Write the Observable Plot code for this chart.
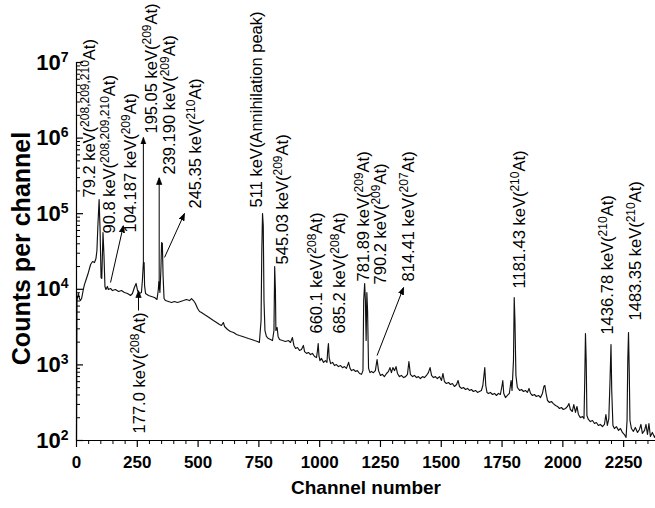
<!DOCTYPE html>
<html><head><meta charset="utf-8">
<script src="https://cdn.jsdelivr.net/npm/d3@7"></script>
<script src="https://cdn.jsdelivr.net/npm/@observablehq/plot@0.6"></script>
<style>body{margin:0;background:#fff} svg{display:block}</style>
</head><body><div id="chart"></div>
<script>
// ---- spectrum (channel, counts per channel) ----
const channels = [0,2,4,8,12,16,21,25,29,33,41,49,58,66,74,80,84,88,93,97,101,104,109,113,117,121,127,131,140,148,160,173,185,197,210,222,230,238,245,251,259,267,271,275,278,280,284,296,308,321,331,336,339,343,347,350,353,356,360,366,378,391,403,415,428,440,452,465,473,481,489,498,506,514,526,539,551,563,576,588,596,604,609,621,633,646,658,670,683,695,707,720,732,744,752,759,762,765,768,771,775,781,789,798,806,812,815,818,820,825,829,835,847,859,872,880,888,894,901,909,917,925,933,938,946,954,962,970,979,987,991,994,997,1001,1007,1016,1024,1030,1033,1036,1039,1045,1053,1061,1069,1077,1086,1094,1102,1110,1119,1125,1131,1139,1147,1155,1164,1172,1178,1181,1185,1188,1191,1194,1197,1201,1207,1213,1221,1229,1236,1242,1250,1258,1266,1275,1283,1289,1295,1301,1308,1314,1320,1328,1336,1345,1353,1361,1367,1373,1382,1390,1398,1406,1414,1423,1431,1439,1447,1454,1460,1468,1476,1484,1493,1501,1507,1513,1521,1530,1538,1546,1554,1563,1569,1575,1583,1591,1600,1608,1616,1624,1632,1641,1649,1657,1665,1671,1679,1683,1688,1694,1702,1711,1719,1727,1735,1743,1750,1753,1757,1764,1772,1780,1787,1791,1797,1800,1803,1807,1813,1822,1830,1838,1846,1854,1861,1867,1875,1883,1891,1900,1908,1916,1922,1926,1931,1937,1945,1953,1961,1970,1978,1986,1994,2002,2011,2019,2025,2031,2039,2045,2052,2058,2064,2072,2081,2087,2090,2093,2096,2099,2105,2113,2122,2130,2138,2146,2154,2163,2171,2177,2183,2189,2194,2198,2201,2206,2212,2220,2229,2237,2245,2253,2260,2264,2267,2270,2273,2276,2282,2290,2298,2307,2315,2321,2327,2336,2342,2348,2354,2360,2368,2377,2381];
const counts = [100,7100,7800,8800,7550,7100,7550,8800,10250,11600,13900,16700,21300,23300,22600,25500,32600,69800,154000,60000,14300,13900,56400,28000,10900,9930,10900,9930,10250,9620,9930,9350,9620,9080,8800,8280,8800,10560,11950,9620,8800,9080,13070,22600,22600,11200,8800,8280,8040,7800,7330,9620,12680,9080,17750,41600,40400,15200,7550,7100,6900,6690,6900,6690,6900,7100,7330,7100,7550,7100,6490,5570,5080,4930,4640,4370,4110,3870,3640,3420,3320,3640,3220,2940,2770,2680,2530,2450,2380,2300,2230,2170,2100,2040,1980,3870,32600,100700,69800,7100,2850,2380,2230,2170,2100,2850,20000,9620,2850,3130,2380,2170,2100,2040,2100,1980,2300,1810,1650,1700,1550,1600,1810,1500,1420,1460,1370,1420,1290,1250,1550,1920,1330,1140,1220,1080,1140,1080,1550,1920,1250,1040,1080,980,1010,950,980,920,950,900,1080,900,840,870,820,840,770,750,840,7100,11950,7100,2100,9080,5250,900,790,820,790,840,1180,840,725,750,700,770,820,920,790,920,840,950,770,700,725,680,700,750,1110,750,700,725,680,700,660,700,680,725,790,920,725,680,700,660,700,622,770,603,567,585,550,567,518,550,622,518,488,502,473,488,459,473,445,459,432,445,459,534,920,534,432,419,432,406,419,394,419,406,534,622,419,370,394,419,622,459,1140,7800,3870,725,502,459,473,445,459,432,488,419,394,406,382,394,370,419,518,534,419,338,318,328,308,290,282,265,273,257,265,282,308,257,242,299,235,282,221,201,207,195,622,2600,1140,214,190,178,184,168,173,158,163,153,163,221,158,195,622,1860,459,158,144,153,136,144,128,120,110,184,1140,2680,840,184,144,132,149,128,140,163,124,136,163,120,168,113,128,110,117];

// ---- peak annotations ----
const labelChannel = [53,136,222,308,384,491,740,849,987,1081,1180,1252,1365,1824,2183,2301,259];
const labelCounts  = [163700,54700,56400,1150000,330000,117000,121000,21300,2600,2600,12700,11600,12700,10250,2520,3870,124];
const labelMain = ["79.2 keV(","90.8 keV(","104.187 keV(","195.05 keV(","239.190 keV(","245.35 keV(","511 keV(Annihilation peak)","545.03 keV(","660.1 keV(","685.2 keV(","781.89 keV(","790.2 keV(","814.41 keV(","1181.43 keV(","1436.78 keV(","1483.35 keV(","177.0 keV("];
const labelSup  = ["208,209,210","208,209,210","209","209","209","210","","209","208","208","209","209","207","210","210","210","208"];
const labelTail = ["At)","At)","At)","At)","At)","At)","","At)","At)","At)","At)","At)","At)","At)","At)","At)","At)"];

// ---- arrows (from, to) ----
const arrowX1 = [140,275,340,362,1236,255];
const arrowY1 = [12300,22600,9930,26400,1330,5250];
const arrowX2 = [193,275,340,444,1345,255];
const arrowY2 = [69800,1019000,301000,100700,10560,9620];

// ---- axes ----
const xTicks = [0,250,500,750,1000,1250,1500,1750,2000,2250];
const xTickLabels = ["0","250","500","750","1000","1250","1500","1750","2000","2250"];
const yTicks = [1e2,1e3,1e4,1e5,1e6,1e7];
const yTickLabels = ["10^2","10^3","10^4","10^5","10^6","10^7"];
const xTitle = "Channel number";
const yTitle = "Counts per channel";

const spectrum = channels.map((c, i) => ({ch: c, n: counts[i]}));
const labels = labelChannel.map((c, i) => ({ch: c, n: labelCounts[i], main: labelMain[i], sup: labelSup[i], tail: labelTail[i]}));
const arrows = arrowX1.map((x, i) => ({x1: x, y1: arrowY1[i], x2: arrowX2[i], y2: arrowY2[i]}));
const xMinor = d3.range(0, 2400, 50).filter(v => !xTicks.includes(v));
const yMinor = [];
for (let e = 2; e < 7; e++) for (let k = 2; k <= 9; k++) yMinor.push(k * Math.pow(10, e));

function headMarker(color) {
  const ns = "http://www.w3.org/2000/svg";
  const m = document.createElementNS(ns, "marker");
  m.setAttribute("viewBox", "0 -5 10 10");
  m.setAttribute("refX", "10"); m.setAttribute("refY", "0");
  m.setAttribute("markerWidth", "7"); m.setAttribute("markerHeight", "7");
  m.setAttribute("markerUnits", "userSpaceOnUse");
  m.setAttribute("orient", "auto");
  const p = document.createElementNS(ns, "path");
  p.setAttribute("d", "M0,-3.8L10,0L0,3.8Z");
  p.setAttribute("fill", color || "black");
  m.appendChild(p);
  return m;
}

const FONT = "'Liberation Sans', Arial, Helvetica, sans-serif";

function build(marker) {
  return Plot.plot({
    width: 655, height: 508,
    marginTop: 62, marginBottom: 68, marginLeft: 76, marginRight: 0,
    style: {fontFamily: FONT, background: "white", color: "black", overflow: "visible"},
    x: {domain: [0, 2381]},
    y: {type: "log", domain: [100, 1e7]},
    marks: [
      Plot.line(spectrum, {x: "ch", y: "n", stroke: "#111", strokeWidth: 1.15}),
      Plot.link(arrows, {x1: "x1", y1: "y1", x2: "x2", y2: "y2", stroke: "black", strokeWidth: 1, markerEnd: marker}),
      Plot.text(labels, {x: "ch", y: "n", text: d => d.main + d.sup + d.tail, rotate: -90, textAnchor: "start", fontSize: 16.5, fill: "black", ariaDescription: "peak-labels"}),
      Plot.ruleX([0], {stroke: "black", strokeWidth: 1.2}),
      Plot.ruleY([100], {stroke: "black", strokeWidth: 1.2}),
      Plot.tickY(yTicks, {y: d => d, insetRight: 572, stroke: "black", strokeWidth: 1.2}),
      Plot.tickY(yMinor, {y: d => d, insetRight: 575, stroke: "black"}),
      Plot.axisX({ticks: xTicks, tickSize: 7, tickPadding: 8, fontSize: 17, fontWeight: "bold", label: null, strokeWidth: 1.2,
        tickFormat: d => xTickLabels[xTicks.indexOf(d)]}),
      Plot.axisX({ticks: xMinor, tickSize: 4, tickFormat: () => "", label: null}),
      Plot.axisY({ticks: yTicks, tickSize: 0, tickPadding: 8, fontSize: 22, fontWeight: "bold", label: null,
        tickFormat: d => yTickLabels[yTicks.indexOf(d)]}),
      Plot.text([yTitle], {frameAnchor: "left", dx: -55, dy: -3, rotate: -90, textAnchor: "middle", fontSize: 25, fontWeight: "bold", fill: "black"}),
      Plot.text([xTitle], {frameAnchor: "bottom", dy: 53, textAnchor: "middle", fontSize: 19, fontWeight: "bold", fill: "black"})
    ]
  });
}

let svg;
try { svg = build(headMarker); } catch (e) { svg = build("arrow"); }
document.getElementById("chart").appendChild(svg);

const NS = "http://www.w3.org/2000/svg";
function supify(el, main, sup, tail, supSize, shift) {
  el.textContent = "";
  const a = document.createElementNS(NS, "tspan"); a.textContent = main; el.appendChild(a);
  if (sup) {
    const b = document.createElementNS(NS, "tspan");
    b.setAttribute("font-size", supSize); b.setAttribute("dy", -shift); b.textContent = sup; el.appendChild(b);
    if (tail) {
      const c = document.createElementNS(NS, "tspan");
      c.setAttribute("dy", shift); c.textContent = tail; el.appendChild(c);
    }
  }
}
const lg = svg.querySelector('g[aria-description="peak-labels"]');
if (lg) lg.querySelectorAll("text").forEach((t, i) => supify(t, labels[i].main, labels[i].sup, labels[i].tail, 12, 6));
const yg = svg.querySelector('g[aria-label="y-axis tick label"]');
if (yg) yg.querySelectorAll("text").forEach(t => {
  const s = t.textContent.split("^");
  if (s.length === 2) supify(t, s[0], s[1], "", 14, 8);
});
</script></body></html>
